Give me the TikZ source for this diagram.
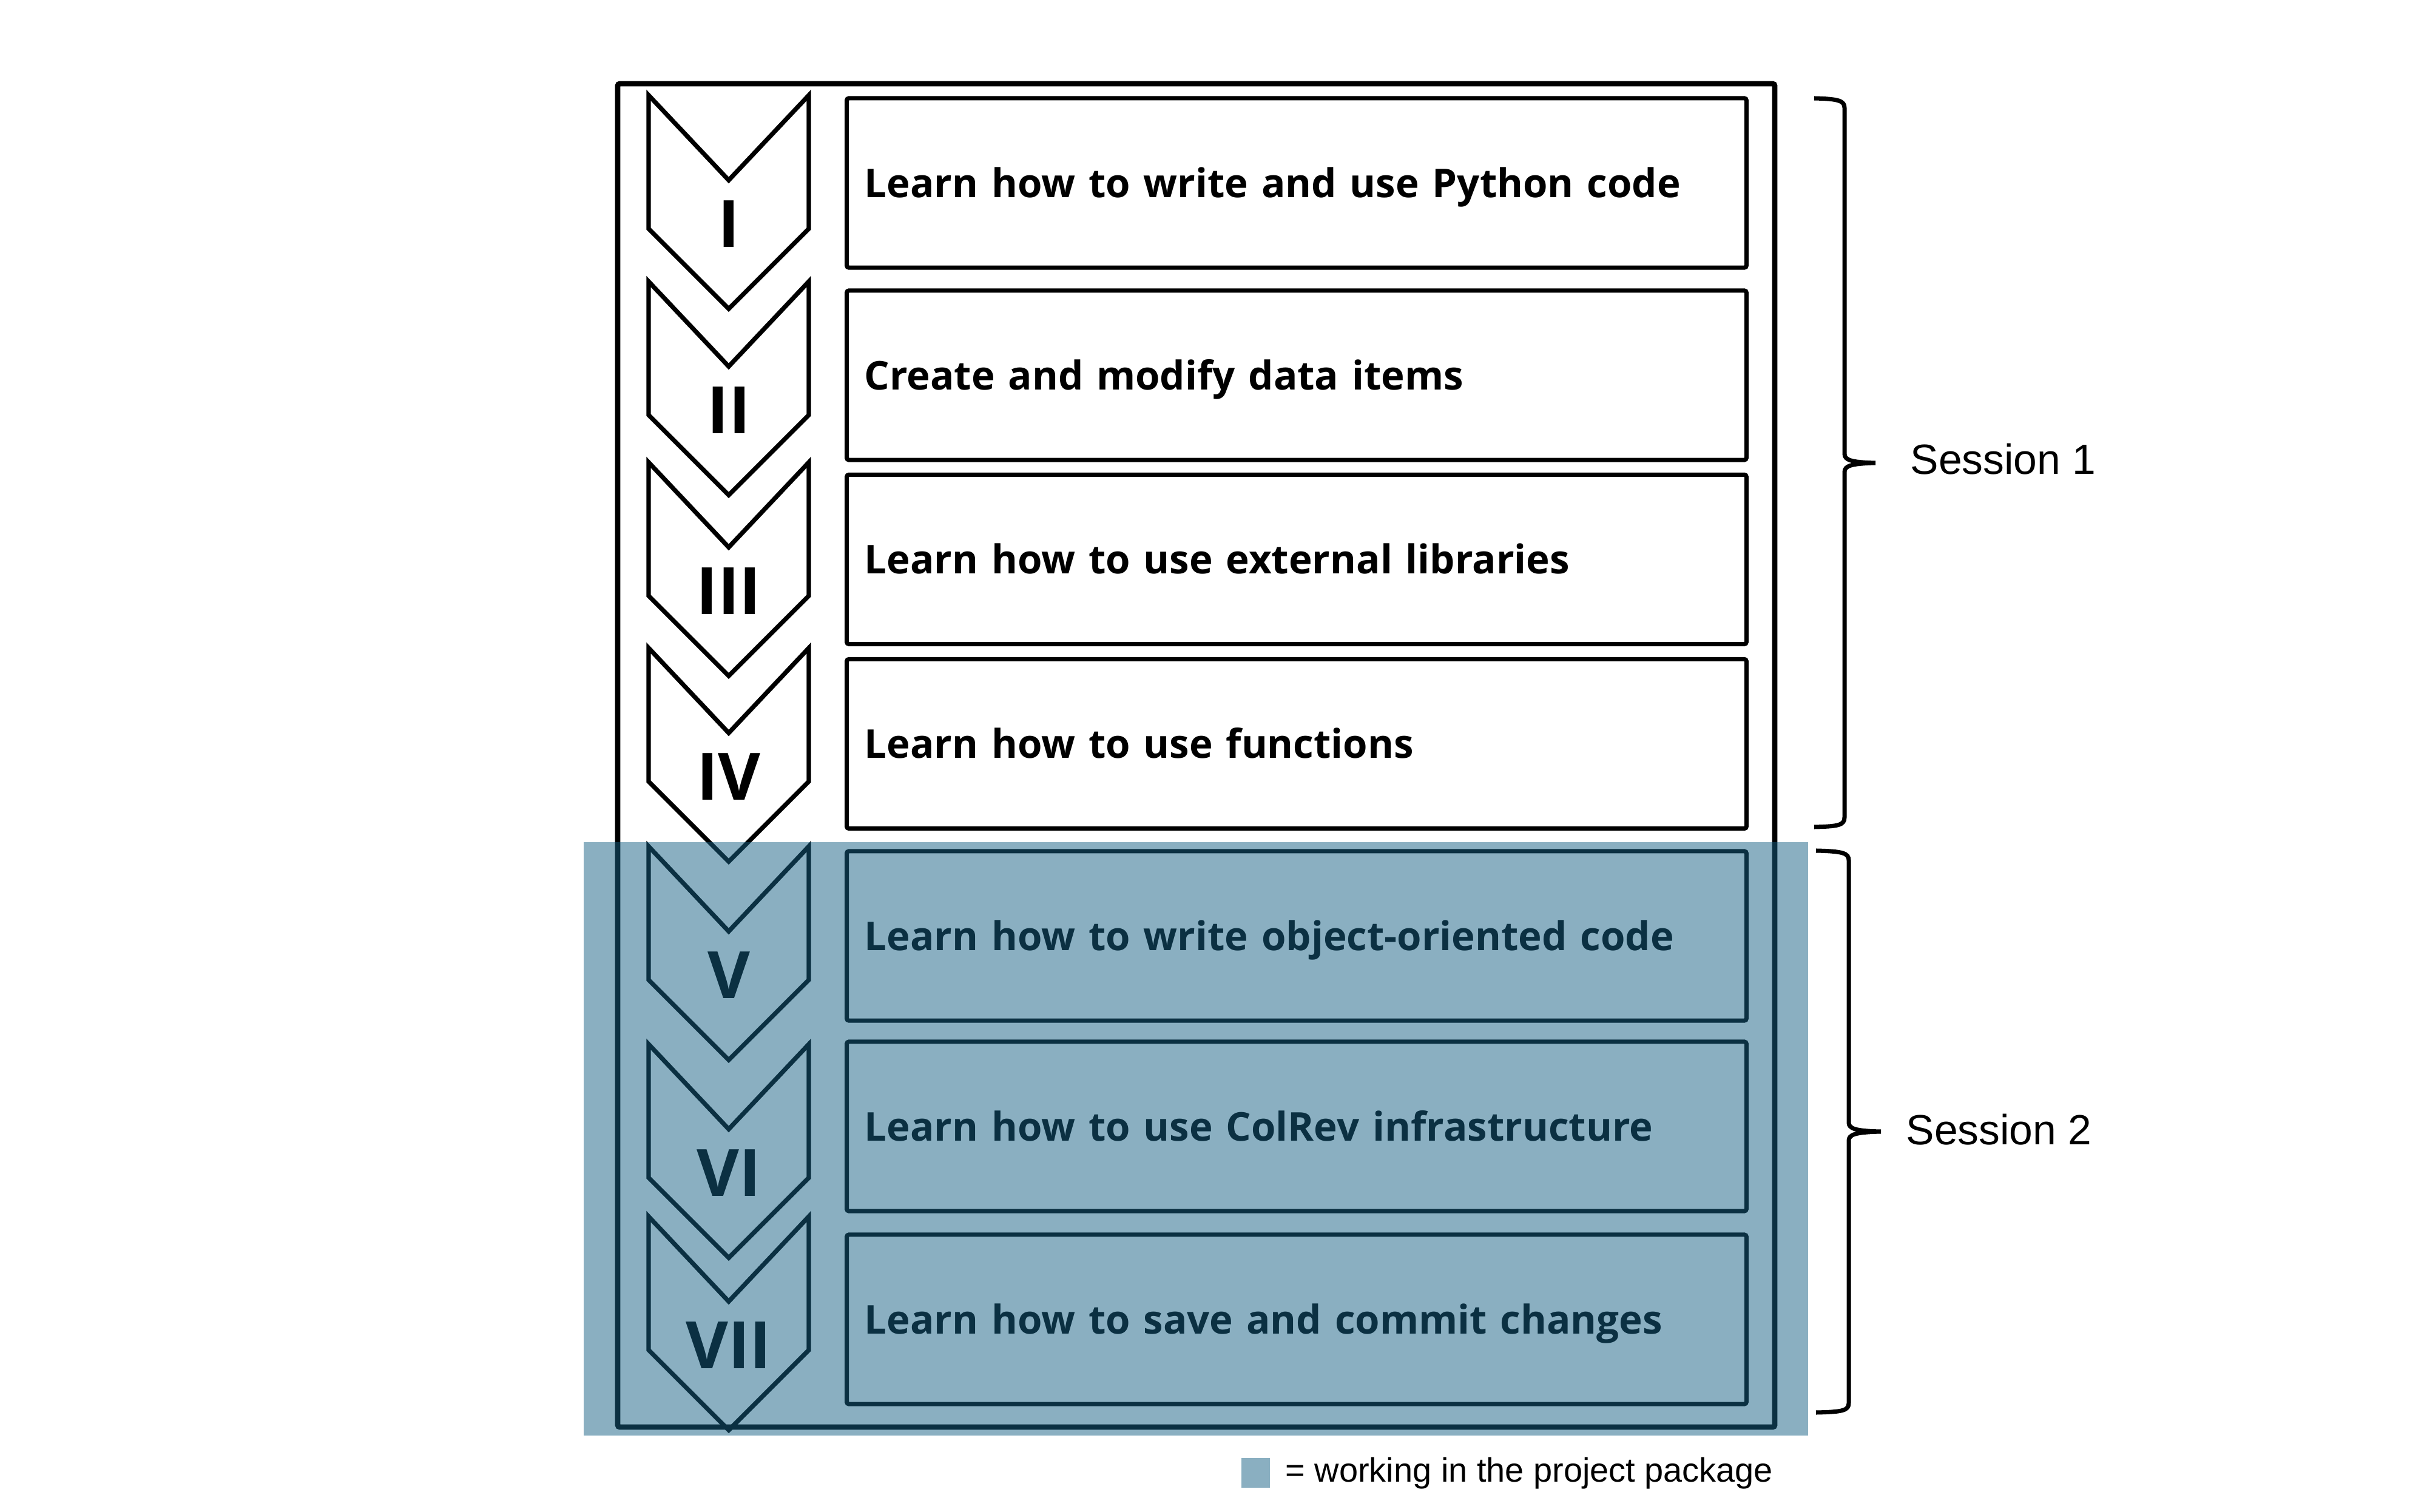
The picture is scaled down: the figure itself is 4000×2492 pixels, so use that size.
\documentclass[tikz,border=0pt]{standalone}
\usepackage{fontspec}
\setmainfont{Open Sans}
\newfontfamily\labelfont{Liberation Sans}
\usetikzlibrary{positioning}
\definecolor{pkgblue}{RGB}{22,96,132}

\begin{document}
\begin{tikzpicture}[
      x=0.01cm, y=-0.01cm,
      task/.style={draw=black, line width=2pt, rounded corners=1pt, anchor=west, minimum height=2.79cm, text width=14.24cm, inner xsep=0.29cm, inner ysep=0pt, align=left, text height=0.47cm, text depth=0pt, font=\fontsize{18.6}{22}\selectfont\bfseries},
      chev/.style={draw=black, line width=2.1pt, miter limit=10},
      numeral/.style={inner sep=0pt, text height=0.77cm, text depth=0pt, font=\fontsize{30.6}{34}\selectfont\bfseries},
      session/.style={anchor=base west, inner sep=0pt, font=\labelfont\fontsize{19.8}{24}\selectfont},
      curly/.style={draw=black, line width=2pt},
      pkg/.style={fill=pkgblue, fill opacity=0.5}
      ]
      \useasboundingbox (0,0) rectangle (4000,2492);

      % Frame
      \draw[line width=2.5pt, rounded corners=1pt] (1018,138) rectangle (2925,2352);

      % Chevrons
      \foreach \top/\num [count=\i] in {157/I, 464/II, 762/III, 1068/IV, 1395/V, 1721/VI, 2005/VII} {
        \draw[chev] (1069,\top) -- (1201,\top+140) -- (1333,\top) -- (1333,\top+220)
          -- (1201,\top+352) -- (1069,\top+220) -- cycle;
        \node[numeral] (n\i) at (1201,\top+212) {\num};
      }

      % Tasks
      \node[task] (t1) at (1392,301.5) {Learn how to write and use Python code};
      \node[task] (t2) at (1392,618.5) {Create and modify data items};
      \node[task] (t3) at (1392,922) {Learn how to use external libraries};
      \node[task] (t4) at (1392,1226) {Learn how to use functions};
      \node[task] (t5) at (1392,1542.5) {Learn how to write object-oriented code};
      \node[task] (t6) at (1392,1856.5) {Learn how to use ColRev infrastructure};
      \node[task] (t7) at (1392,2174.5) {Learn how to save and commit changes};

      % Project package
      \fill[pkg] (962,1388) rectangle (2980,2366);

      % Sessions
      \draw[curly] (2990,162) .. controls (3030,163) and (3040,166) .. (3040,178) -- (3040,748)
        .. controls (3040,758) and (3050,762) .. (3091,763) .. controls (3050,764) and (3040,768) .. (3040,778)
        -- (3040,1347) .. controls (3040,1360) and (3030,1362) .. (2990,1363);
      \draw[curly] (2993,1402) .. controls (3037,1403) and (3047,1406) .. (3047,1418) -- (3047,1850)
        .. controls (3047,1860) and (3057,1864) .. (3100,1865) .. controls (3057,1866) and (3047,1870) .. (3047,1880)
        -- (3047,2312) .. controls (3047,2325) and (3037,2327) .. (2993,2328);
      \node[session] (s1) at (3148,782) {Session 1};
      \node[session] (s2) at (3141,1886) {Session 2};

      % Legend
      \node[pkg, inner sep=0pt, minimum width=0.47cm, minimum height=0.49cm] (key) at (2069.5,2427.5) {};
      \node[anchor=base west, inner sep=0pt, font=\labelfont\fontsize{15.9}{18}\selectfont] (keytext) at (2118,2442) {= working in the project package};

    \end{tikzpicture}
\end{document}
